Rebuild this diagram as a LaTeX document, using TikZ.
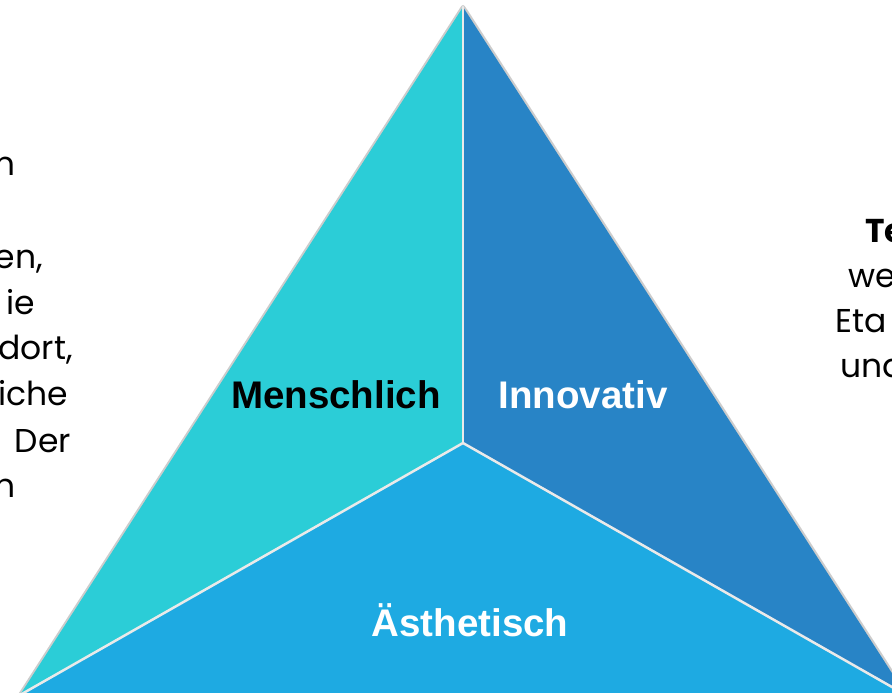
\documentclass[tikz,border=0pt]{standalone}
\usepackage{fontspec}
\setmainfont{Liberation Sans}
\newfontfamily\bodyfont{Poppins}
\definecolor{faceLeft}{HTML}{2BCDD7}
\definecolor{faceRight}{HTML}{2884C6}
\definecolor{faceBottom}{HTML}{1EAAE2}
\definecolor{seam}{HTML}{EAEAEA}
\begin{document}
\begin{tikzpicture}[x=1pt,y=-1pt,
  facelabel/.style={font=\fontsize{38.5}{38.5}\selectfont\bfseries, inner sep=0, anchor=base},
  sidetext/.style={font=\bodyfont\fontsize{33}{33}\selectfont, inner sep=0, text=black},
  sidebold/.style={sidetext, font=\bodyfont\bfseries\fontsize{33}{33}\selectfont},
  divider/.style={draw=seam, line width=2.5pt, line cap=round}]
\useasboundingbox (0,0) rectangle (892,693);
\clip (0,0) rectangle (892,693);

% corners of the pyramid and its centre point
\coordinate (apex) at (463,7);
\coordinate (bl) at (20,695);
\coordinate (br) at (906,695);
\coordinate (ctr) at (463,443);

% soft shadow around the outline
\fill[black!10] ([shift={(4,2)}]apex) -- ([shift={(4,2)}]br) -- ([shift={(4,2)}]bl) -- cycle;
\draw[black!20, line width=4pt, line join=round] (apex) -- (br) -- (bl) -- cycle;

% the three faces
\fill[faceLeft] (apex) -- (ctr) -- (bl) -- cycle;
\fill[faceRight] (apex) -- (br) -- (ctr) -- cycle;
\fill[faceBottom] (bl) -- (ctr) -- (br) -- cycle;

% seams between the faces
\draw[divider] (apex) -- (ctr);
\draw[divider] (ctr) -- (bl);
\draw[divider] (ctr) -- (br);

% face labels
\node[facelabel, text=black] (menschlich) at (336,408) {Menschlich};
\node[facelabel, text=white] (innovativ) at (583,408) {Innovativ};
\node[facelabel, text=white] (aesthetisch) at (470,636) {Ästhetisch};

% running text at the left margin
\node[sidetext, anchor=base east] (l1) at (16,175) {m};
\node[sidetext, anchor=base east] (l2) at (43,268) {en,};
\node[sidetext, anchor=base east] (l3) at (35,314) {ie};
\node[sidetext, anchor=base east] (l4) at (73,359) {dort,};
\node[sidetext, anchor=base east] (l5) at (68,405) {iche};
\node[sidetext, anchor=base east] (l6) at (71,452) {Der};
\node[sidetext, anchor=base east] (l7) at (16,497) {h};

% running text at the right margin
\node[sidebold, anchor=base west] (r1) at (865,242) {Te};
\node[sidetext, anchor=base west] (r2) at (848,287) {we};
\node[sidetext, anchor=base west] (r3) at (835,332) {Eta};
\node[sidetext, anchor=base west] (r4) at (840,377) {und};
\end{tikzpicture}
\end{document}
